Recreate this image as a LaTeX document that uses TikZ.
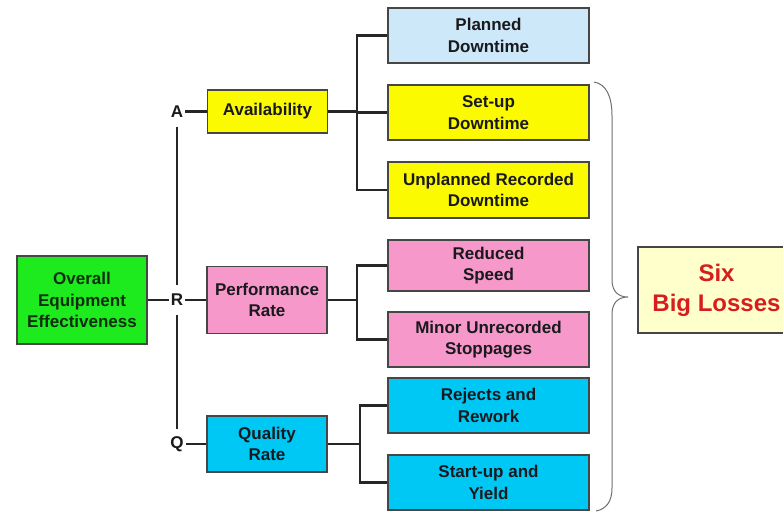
\documentclass[tikz,border=0pt]{standalone}
\usepackage{fontspec}
\setmainfont{Liberation Sans}
\definecolor{boxedge}{RGB}{70,70,70}
\definecolor{textdark}{RGB}{25,25,30}
\definecolor{oeegreen}{RGB}{30,235,30}
\definecolor{oeetext}{RGB}{15,45,15}
\definecolor{availyellow}{RGB}{252,250,0}
\definecolor{perfpink}{RGB}{247,152,202}
\definecolor{qualcyan}{RGB}{0,200,245}
\definecolor{planblue}{RGB}{205,232,248}
\definecolor{losscream}{RGB}{255,255,204}
\definecolor{lossred}{RGB}{215,30,30}
\definecolor{bracegray}{RGB}{110,110,110}
\begin{document}
\begin{tikzpicture}[x=1pt,y=-1pt,
  box/.style={draw=boxedge, line width=1.6pt, align=center, inner sep=0pt,
    font=\fontsize{17}{21.5}\selectfont\bfseries, text=textdark},
  lossbox/.style={box, minimum width=201pt, minimum height=55pt},
  midbox/.style={box, minimum width=120pt},
  letter/.style={font=\fontsize{17}{21.5}\selectfont\bfseries, text=textdark,
    inner xsep=2pt, inner ysep=0pt, minimum height=30pt},
  wire/.style={line width=2.2pt, draw=black!85}
]
\useasboundingbox (0,0) rectangle (783,512);
\clip (0,0) rectangle (783,512);

% root
\node[box, fill=oeegreen, text=oeetext, minimum width=130pt, minimum height=88pt]
  (oee) at (82,300) {Overall\\Equipment\\Effectiveness};

% A / R / Q letters on the trunk
\node[letter] (A) at (177,111.5) {A};
\node[letter] (R) at (177,300) {R};
\node[letter] (Q) at (177,444) {Q};

% three rate boxes
\node[midbox, fill=availyellow, minimum height=43pt] (avail) at (267.5,111.5) {Availability};
\node[midbox, fill=perfpink, minimum height=67pt] (perf) at (267,300) {Performance\\Rate};
\node[midbox, fill=qualcyan, minimum height=56pt] (qual) at (267,444) {Quality\\Rate};

% loss boxes
\node[lossbox, fill=planblue] (planned) at (488.5,35.5) {Planned\\Downtime};
\node[lossbox, fill=availyellow] (setup) at (488.5,112.5) {Set-up\\Downtime};
\node[lossbox, fill=availyellow, minimum height=56pt] (unplanned) at (488.5,190) {Unplanned Recorded\\Downtime};
\node[lossbox, fill=perfpink, minimum height=51pt] (reduced) at (488.5,265.5) {Reduced\\Speed};
\node[lossbox, fill=perfpink] (minor) at (488.5,339.5) {Minor Unrecorded\\Stoppages};
\node[lossbox, fill=qualcyan] (rejects) at (488.5,405.5) {Rejects and\\Rework};
\node[lossbox, fill=qualcyan] (startup) at (488.5,482.5) {Start-up and\\Yield};

% summary box, running off the right edge
\node[box, fill=losscream, text=lossred, minimum width=157pt, minimum height=86pt,
  font=\fontsize{24}{30}\selectfont\bfseries] (six) at (716.5,290) {Six\\Big Losses};

% junction points of the branch lines
\coordinate (ja) at (357,111.5);
\coordinate (jp) at (357,300);
\coordinate (jq) at (360,444);

% trunk and rate connectors
\draw[wire] (A.south) -- (R.north);
\draw[wire] (R.south) -- (Q.north);
\draw[wire] (oee.east) -- (R.west);
\draw[wire] (A.east) -- (avail.west);
\draw[wire] (R.east) -- (perf.west);
\draw[wire] (Q.east) -- (qual.west);

% availability branches
\draw[wire] (avail.east) -- (ja);
\draw[wire] (ja) |- (planned.west);
\draw[wire] (ja) |- (setup.west);
\draw[wire] (ja) |- (unplanned.west);

% performance branches
\draw[wire] (perf.east) -- (jp);
\draw[wire] (jp) |- (reduced.west);
\draw[wire] (jp) |- (minor.west);

% quality branches
\draw[wire] (qual.east) -- (jq);
\draw[wire] (jq) |- (rejects.west);
\draw[wire] (jq) |- (startup.west);

% curly brace gathering the six losses
\draw[bracegray, line width=1pt]
  (594,82) .. controls (606,84) and (612,96) .. (612,116)
  -- (612,280) .. controls (612,291) and (618,297) .. (628,297)
  .. controls (618,297) and (612,303) .. (612,314)
  -- (612,488) .. controls (612,502) and (606,509) .. (596,511);
\end{tikzpicture}
\end{document}
